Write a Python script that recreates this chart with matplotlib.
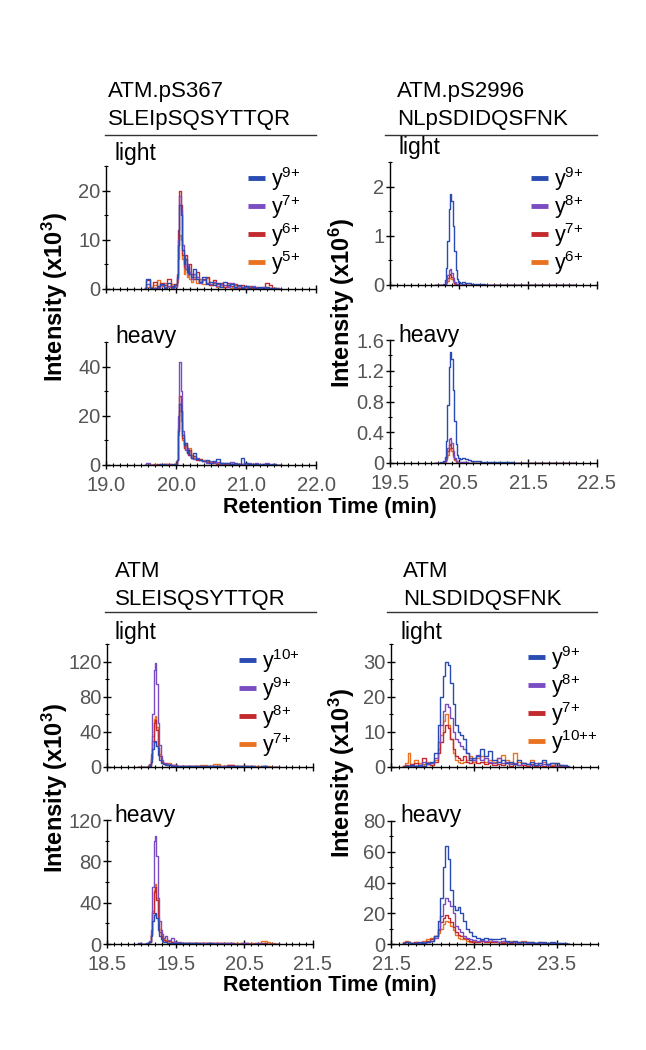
import numpy as np
import matplotlib
matplotlib.use("Agg")
import matplotlib.pyplot as plt
from matplotlib.lines import Line2D
from matplotlib.ticker import MultipleLocator, FuncFormatter

plt.rcParams['font.family'] = ['Liberation Sans', 'DejaVu Sans']
plt.rcParams['mathtext.fontset'] = 'custom'
plt.rcParams['mathtext.rm'] = 'Liberation Sans'
plt.rcParams['mathtext.it'] = 'Liberation Sans:italic'
plt.rcParams['mathtext.bf'] = 'Liberation Sans:bold'

# ---- data: ATM.pS367 SLEIpSQSYTTQR (x10^3) ----
tA = [19.55, 19.60, 19.65, 19.70, 19.75, 19.80, 19.85, 19.90, 19.95, 20.00,
      20.02, 20.04, 20.06, 20.08, 20.10, 20.12, 20.14, 20.16, 20.18, 20.20,
      20.23, 20.26, 20.30, 20.35, 20.40, 20.45, 20.50, 20.55, 20.60, 20.65,
      20.70, 20.75, 20.80, 20.85, 20.90, 20.95, 21.00, 21.05, 21.10, 21.15,
      21.20, 21.25, 21.30, 21.35, 21.40, 21.45, 21.50]
A_light_y9 = [0.2, 2.0, 0.3, 0.1, 0.6, 1.0, 0.3, 1.2, 0.4, 0.8,
              2.5, 9, 17, 15, 8, 5, 6, 3.5, 4.5, 3,
              2.5, 4, 2, 1.5, 2.5, 1, 1.5, 0.8, 1.2, 0.5,
              1.5, 0.8, 1.0, 0.4, 0.8, 0.3, 0.6, 0.2, 0.5, 0.3,
              0.4, 0.2, 0.5, 0.2, 0.3, 0.1, 0.0]
A_light_y7 = [0.1, 1.0, 0.2, 0.3, 0.2, 0.8, 0.5, 0.6, 0.3, 0.5,
              2, 10, 19, 16, 9, 6, 4, 5, 3, 3.5,
              2, 3, 2.5, 1.2, 1.8, 1.2, 1, 1.5, 0.6, 1,
              0.8, 0.5, 1.2, 0.3, 0.6, 0.5, 0.4, 0.3, 0.6, 0.2,
              0.3, 0.4, 0.2, 0.3, 0.1, 0.2, 0.0]
A_light_y6 = [0.3, 1.8, 0.2, 1.5, 0.5, 1.2, 0.8, 2.0, 0.6, 1.0,
              3, 12, 20, 17, 7, 4.5, 7, 4, 3, 5,
              3, 2, 3.5, 1.5, 2, 2.5, 0.8, 1.8, 1, 1.3,
              0.5, 1.2, 0.6, 1.0, 0.3, 0.8, 0.4, 0.6, 0.2, 0.5,
              0.3, 0.5, 1.2, 0.8, 0.3, 0.2, 0.0]
A_light_y5 = [0.2, 0.5, 0.4, 0.8, 1.8, 0.6, 1.2, 0.5, 1.0, 0.6,
              1.5, 6, 11, 10, 6, 3, 4, 2.5, 3, 2,
              1.5, 2.5, 1.2, 2, 1, 2.2, 0.8, 1.2, 0.5, 0.8,
              0.4, 0.6, 0.3, 0.8, 0.2, 0.5, 0.3, 0.4, 0.2, 0.3,
              0.2, 0.3, 0.4, 0.2, 0.3, 0.1, 0.0]
A_heavy_y9 = [0, 0.2, 0, 0.1, 0, 0.3, 0.1, 0.2, 0.3, 0.5,
              2, 14, 25, 22, 12, 8, 9, 5, 6, 4,
              3, 5, 2.5, 2, 1.5, 2, 1, 1.5, 2.5, 1,
              0.8, 1, 0.5, 0.8, 0.5, 3, 0.8, 0.5, 0.3, 0.4,
              0.2, 0.3, 0.4, 0.2, 0.3, 0.1, 0]
A_heavy_y7 = [0.1, 0.8, 0.1, 0, 0.2, 0.1, 0.3, 0.2, 0.1, 0.4,
              2, 20, 42, 30, 14, 9, 6, 7, 5, 4,
              3, 2.5, 3, 2, 1.5, 1, 1.5, 0.8, 1.2, 0.6,
              1, 0.5, 1.2, 0.4, 0.6, 0.3, 0.5, 1.0, 0.3, 0.8,
              0.5, 0.3, 0.8, 0.6, 0.3, 0.2, 0]
A_heavy_y6 = [0, 0.1, 0.2, 0, 0.3, 0.2, 0.4, 0.3, 0.2, 0.6,
              2, 15, 28, 22, 11, 7, 8, 5, 4, 6,
              3, 3.5, 2, 2.5, 1.5, 1.2, 1, 1.3, 0.6, 0.8,
              0.5, 0.6, 0.4, 0.5, 0.3, 0.4, 0.3, 0.2, 0.3, 0.2,
              0.2, 0.1, 0.2, 0.1, 0.1, 0.1, 0]
A_heavy_y5 = [0, 0.1, 0.1, 0.3, 0.2, 0.5, 0.3, 0.4, 0.2, 0.6,
              2, 12, 22, 18, 10, 7, 9, 6, 5, 7,
              4, 3, 2.5, 2, 2, 1.5, 1.2, 1, 0.8, 1,
              0.6, 0.8, 0.5, 0.4, 0.3, 0.5, 0.3, 0.4, 0.2, 0.3,
              0.2, 0.3, 0.2, 0.1, 0.2, 0.1, 0]

# ---- data: ATM.pS2996 NLpSDIDQSFNK (x10^6) ----
tB = [20.15, 20.20, 20.25, 20.28, 20.30, 20.32, 20.34, 20.36, 20.38, 20.40,
      20.42, 20.44, 20.46, 20.48, 20.50, 20.53, 20.56, 20.60, 20.65, 20.70,
      20.75, 20.80, 20.85, 20.90, 21.00, 21.20, 21.40, 21.60, 21.80, 22.00,
      22.20]
B_light_y9 = [0, 0.002, 0.01, 0.03, 0.1, 0.35, 0.9, 1.55, 1.85, 1.7,
              1.2, 0.7, 0.3, 0.12, 0.06, 0.05, 0.06, 0.05, 0.04, 0.03,
              0.02, 0.02, 0.015, 0.01, 0.01, 0.005, 0.005, 0.003, 0.002, 0.002,
              0]
B_light_y8 = [0, 0, 0.003, 0.01, 0.03, 0.08, 0.2, 0.3, 0.32, 0.25,
              0.15, 0.07, 0.03, 0.015, 0.01, 0.01, 0.015, 0.01, 0.006, 0.004,
              0.003, 0.002, 0.002, 0.001, 0.001, 0, 0, 0, 0, 0,
              0]
B_light_y7 = [0, 0, 0.002, 0.008, 0.02, 0.06, 0.14, 0.21, 0.22, 0.17,
              0.1, 0.05, 0.02, 0.01, 0.008, 0.006, 0.008, 0.005, 0.004, 0.003,
              0.002, 0.002, 0.001, 0.001, 0.001, 0, 0, 0, 0, 0,
              0]
B_light_y6 = [0, 0, 0.001, 0.005, 0.015, 0.04, 0.09, 0.14, 0.15, 0.12,
              0.07, 0.03, 0.015, 0.008, 0.005, 0.004, 0.005, 0.003, 0.002, 0.002,
              0.001, 0.001, 0.001, 0, 0, 0, 0, 0, 0, 0,
              0]
B_heavy_y9 = [0, 0.003, 0.01, 0.03, 0.08, 0.28, 0.75, 1.25, 1.45, 1.35,
              0.95, 0.55, 0.25, 0.1, 0.06, 0.05, 0.06, 0.05, 0.04, 0.03,
              0.025, 0.02, 0.015, 0.012, 0.01, 0.008, 0.006, 0.005, 0.004, 0.003,
              0.002]
B_heavy_y8 = [0, 0, 0.002, 0.01, 0.03, 0.08, 0.2, 0.31, 0.33, 0.26,
              0.15, 0.07, 0.03, 0.015, 0.01, 0.01, 0.012, 0.008, 0.005, 0.004,
              0.003, 0.002, 0.002, 0.001, 0.001, 0, 0, 0, 0, 0,
              0]
B_heavy_y7 = [0, 0, 0.002, 0.008, 0.02, 0.06, 0.15, 0.23, 0.25, 0.19,
              0.11, 0.05, 0.02, 0.01, 0.008, 0.006, 0.008, 0.005, 0.004, 0.003,
              0.002, 0.002, 0.001, 0.001, 0.001, 0, 0, 0, 0, 0,
              0]
B_heavy_y6 = [0, 0, 0.001, 0.005, 0.015, 0.04, 0.11, 0.18, 0.2, 0.15,
              0.08, 0.04, 0.015, 0.008, 0.005, 0.004, 0.005, 0.003, 0.002, 0.002,
              0.001, 0.001, 0.001, 0, 0, 0, 0, 0, 0, 0,
              0]

# ---- data: ATM SLEISQSYTTQR (x10^3) ----
tC = [18.95, 19.05, 19.10, 19.13, 19.15, 19.17, 19.19, 19.21, 19.23, 19.25,
      19.27, 19.29, 19.31, 19.33, 19.36, 19.40, 19.45, 19.50, 19.55, 19.60,
      19.70, 19.80, 19.90, 20.00, 20.10, 20.20, 20.30, 20.40, 20.50, 20.60,
      20.70, 20.80, 20.85, 20.90, 21.00]
C_light_y10 = [0, 0, 0.3, 1.5, 6, 20, 28, 30, 24, 14,
               8, 5, 4, 3, 2.5, 2, 1.5, 1.2, 1, 1,
               1.5, 0.8, 1, 0.8, 1.2, 0.5, 0.8, 1.2, 0.6, 1,
               0.5, 0.8, 0.4, 0.3, 0]
C_light_y9 = [0, 0, 0.5, 3, 15, 60, 110, 118, 95, 50,
              25, 12, 8, 5, 4, 3, 2.5, 2, 1.5, 1.5,
              1, 1, 1.2, 0.8, 1, 1.5, 0.8, 1, 0.6, 0.8,
              0.5, 0.8, 0.4, 0.5, 0]
C_light_y8 = [0, 0, 0.3, 2, 9, 30, 50, 54, 42, 22,
              12, 8, 5, 4, 3, 2.5, 2, 1.5, 1.2, 1,
              1, 0.8, 1, 1.2, 0.8, 1, 2, 0.8, 0.6, 0.5,
              0.4, 0.3, 0.2, 0.3, 0]
C_light_y7 = [0, 0, 0.3, 2, 10, 35, 55, 58, 45, 25,
              15, 9, 6, 5, 3, 4, 2, 2.5, 1.5, 1,
              1.5, 1, 2, 1.5, 3, 1, 2, 1.5, 1, 0.8,
              1, 0.5, 0.6, 0.4, 0]
C_heavy_y10 = [0.8, 0.3, 0.5, 2, 8, 22, 28, 30, 25, 14,
               8, 5, 3, 2, 1.5, 1.2, 1, 0.8, 0.7, 0.6,
               0.5, 0.5, 0.4, 0.5, 0.4, 0.3, 0.4, 0.3, 0.3, 0.3,
               0.2, 0.2, 0.1, 0.1, 0]
C_heavy_y9 = [0, 0, 0.5, 3, 14, 55, 100, 105, 85, 45,
              22, 14, 10, 6, 8, 4, 6, 2, 1.5, 1,
              1, 0.8, 1, 0.6, 0.8, 0.5, 0.6, 0.4, 0.6, 0.4,
              0.5, 0.3, 0.2, 0.2, 0]
C_heavy_y8 = [0, 0, 0.3, 2, 9, 30, 50, 55, 43, 22,
              12, 8, 6, 4, 3, 2.5, 2, 1.5, 1, 1,
              0.8, 0.6, 0.8, 0.5, 0.6, 0.8, 0.5, 0.4, 0.5, 0.4,
              0.3, 0.6, 0.3, 0.2, 0]
C_heavy_y7 = [0.5, 0, 0.3, 2, 10, 32, 52, 58, 45, 25,
              15, 10, 8, 5, 4, 3, 2, 1.5, 1, 1,
              0.8, 0.6, 1, 0.8, 0.6, 1, 0.8, 0.6, 0.8, 0.6,
              1, 3, 1.5, 0.5, 0]

# ---- data: ATM NLSDIDQSFNK (x10^3) ----
tD = [21.65, 21.70, 21.72, 21.75, 21.80, 21.85, 21.90, 21.95, 22.00, 22.05,
      22.08, 22.11, 22.14, 22.17, 22.20, 22.23, 22.26, 22.29, 22.32, 22.35,
      22.38, 22.42, 22.46, 22.50, 22.55, 22.60, 22.65, 22.70, 22.75, 22.80,
      22.85, 22.90, 22.95, 23.00, 23.05, 23.10, 23.15, 23.20, 23.25, 23.30,
      23.35, 23.40, 23.45, 23.50, 23.55, 23.60, 23.65]
D_light_y9 = [0, 0.3, 0.2, 0.5, 0.3, 0.6, 0.4, 1.0, 1.5, 4,
              12, 20, 26, 30, 29, 24, 18, 12, 10, 9,
              8, 4, 2, 2.5, 3, 5, 3, 4.5, 2, 1.5,
              2, 1, 1.5, 0.8, 2, 1, 0.8, 1.5, 0.6, 1.2,
              2, 0.8, 1, 1.2, 0.5, 0.6, 0.2]
D_light_y8 = [0, 0.2, 0.3, 0.2, 0.4, 0.3, 1.5, 0.8, 1.2, 2.5,
              7, 12, 16, 18, 17, 14, 10, 8, 7, 6,
              5, 4, 2.5, 2, 3.5, 2, 2.5, 1.5, 1, 2.5,
              1, 1.5, 0.8, 1, 0.5, 1.2, 0.8, 0.5, 1, 0.6,
              0.8, 0.5, 1, 0.4, 0.6, 0.3, 0.1]
D_light_y7 = [0.2, 0.5, 0.3, 0.8, 1.2, 0.5, 2.5, 0.8, 0.6, 1.5,
              4, 7, 10, 12, 11, 8, 5, 3, 2.5, 2,
              3, 1.5, 1, 2, 1.2, 1.5, 0.8, 1, 0.5, 0.8,
              0.6, 1, 0.4, 0.8, 0.5, 0.6, 0.3, 0.8, 0.4, 0.5,
              0.3, 0.5, 0.2, 0.4, 0.2, 0.3, 0]
D_light_y10 = [0.3, 1, 4, 0.5, 2, 1.2, 0.8, 1.5, 0.6, 2,
               5, 9, 13, 15, 12, 8, 4, 2, 1.5, 1,
               1.5, 2, 3, 1.5, 2.5, 3, 1.5, 2, 1.5, 2.5,
               3.5, 2, 1, 4, 1.5, 1, 0.8, 2, 0.6, 1,
               1.5, 0.8, 0.5, 1, 0.4, 0.2, 0]
D_heavy_y9 = [0.5, 1.5, 1, 0.8, 0.5, 1, 0.8, 1.5, 2, 5,
              15, 30, 50, 64, 55, 35, 25, 22, 24, 20,
              15, 10, 8, 5, 4, 3, 4, 3, 3.5, 3,
              4, 2, 1.5, 2, 1.5, 1, 1.5, 1, 0.8, 1,
              1.5, 0.8, 1, 0.5, 0.8, 0.4, 0.2]
D_heavy_y8 = [0.5, 1, 1.2, 0.5, 0.8, 0.6, 1, 1.5, 2, 4,
              10, 18, 26, 30, 28, 25, 20, 12, 10, 8,
              5, 4, 3, 2.5, 2, 2.5, 2, 3, 2, 1.5,
              2, 1, 1.5, 1, 0.8, 1, 0.6, 0.8, 0.5, 0.4,
              0.5, 0.3, 0.4, 0.2, 0.3, 0.2, 0]
D_heavy_y7 = [0.8, 1.5, 1, 0.8, 1.2, 0.6, 1.5, 2, 3, 5,
              9, 14, 17, 19, 17, 14, 11, 8, 6, 5,
              4, 3, 2, 1.5, 1.5, 2, 1.2, 1, 1.5, 1,
              0.8, 1, 0.6, 1.5, 0.8, 1, 0.5, 0.6, 0.4, 0.5,
              0.3, 0.2, 0.3, 0.1, 0.2, 0.1, 0]
D_heavy_y10 = [1, 2, 1.2, 0.8, 1, 0.5, 2, 3, 4, 5,
               7, 10, 13, 15, 14, 12, 9, 6, 4, 3,
               3, 2, 1.5, 2, 1, 2.5, 1.5, 2, 1.5, 1,
               1.5, 1, 2, 1.2, 1.5, 2, 1, 1.5, 0.8, 1,
               0.6, 0.8, 0.5, 0.3, 0.4, 0.2, 0]

labels_A = ['y$^{9{+}}$', 'y$^{7{+}}$', 'y$^{6{+}}$', 'y$^{5{+}}$']
labels_B = ['y$^{9{+}}$', 'y$^{8{+}}$', 'y$^{7{+}}$', 'y$^{6{+}}$']
labels_C = ['y$^{10{+}}$', 'y$^{9{+}}$', 'y$^{8{+}}$', 'y$^{7{+}}$']
labels_D = ['y$^{9{+}}$', 'y$^{8{+}}$', 'y$^{7{+}}$', 'y$^{10{+}{+}}$']

colors = ['#2a4cb2', '#7b4dc2', '#c22a2e', '#ea7322']

W, H = 646, 1050
fig = plt.figure(figsize=(W / 100, H / 100), dpi=100)


def fx(px):
    return px / W


def fy(py):
    return 1 - py / H


def make_ax(left, right, top, bottom):
    return fig.add_axes([fx(left), fy(bottom), (right - left) / W, (bottom - top) / H])


def style_ax(ax, xlim, xticks, ylim, ymaj, ymin, show_x):
    ax.set_xlim(*xlim)
    ax.set_ylim(0, ylim)
    for s in ['top', 'right']:
        ax.spines[s].set_visible(False)
    ax.spines['left'].set_linewidth(1.0)
    ax.spines['bottom'].set_linewidth(1.0)
    ax.set_xticks(xticks)
    ax.xaxis.set_minor_locator(MultipleLocator(0.1))
    ax.yaxis.set_major_locator(MultipleLocator(ymaj))
    ax.yaxis.set_minor_locator(MultipleLocator(ymin))
    ax.tick_params(which='major', direction='inout', length=6, width=1.0,
                   labelsize=14.5, labelcolor='#555555')
    ax.tick_params(axis='y', which='major', pad=1)
    ax.tick_params(axis='x', which='major', pad=5)
    ax.tick_params(which='minor', direction='inout', length=3.5, width=0.8)
    ax.yaxis.set_major_formatter(FuncFormatter(lambda v, p: f'{v:g}'))
    ax.xaxis.set_major_formatter(FuncFormatter(lambda v, p: f'{v:.1f}'))
    if not show_x:
        ax.tick_params(axis='x', labelbottom=False)


def draw(ax, t, series):
    # orange drawn first, blue on top
    for y, c in reversed(list(zip(series, colors))):
        ax.plot(t, y, color=c, lw=1.0, drawstyle='steps-mid')


panels = [
    dict(t=tA, light=[A_light_y9, A_light_y7, A_light_y6, A_light_y5],
         heavy=[A_heavy_y9, A_heavy_y7, A_heavy_y6, A_heavy_y5], labels=labels_A,
         lx=(106, 316), light_tb=(166, 289), heavy_tb=(342, 465),
         xlim=(19.0, 22.0), xticks=[19.0, 20.0, 21.0, 22.0],
         ylight=(25, 10, 5), yheavy=(50, 20, 10),
         title=('ATM.pS367', 'SLEIpSQSYTTQR'), tx=108, ty=(97, 125), line=(105, 316, 135),
         lab_x=115, lab_y=(160, 343), leg=(248, 165),
         ylab='Intensity (x10$^\\mathbf{3}$)', ylab_xy=(55, 297)),
    dict(t=tB, light=[B_light_y9, B_light_y8, B_light_y7, B_light_y6],
         heavy=[B_heavy_y9, B_heavy_y8, B_heavy_y7, B_heavy_y6], labels=labels_B,
         lx=(390, 597), light_tb=(162, 285), heavy_tb=(340, 463),
         xlim=(19.5, 22.5), xticks=[19.5, 20.5, 21.5, 22.5],
         ylight=(2.5, 1, 0.5), yheavy=(1.6, 0.4, 0.2),
         title=('ATM.pS2996', 'NLpSDIDQSFNK'), tx=397, ty=(97, 125), line=(385, 597, 135),
         lab_x=398, lab_y=(154, 342), leg=(531, 165),
         ylab='Intensity (x10$^\\mathbf{6}$)', ylab_xy=(342, 303)),
    dict(t=tC, light=[C_light_y10, C_light_y9, C_light_y8, C_light_y7],
         heavy=[C_heavy_y10, C_heavy_y9, C_heavy_y8, C_heavy_y7], labels=labels_C,
         lx=(107, 313), light_tb=(644, 767), heavy_tb=(820, 944),
         xlim=(18.5, 21.5), xticks=[18.5, 19.5, 20.5, 21.5],
         ylight=(140, 40, 20), yheavy=(120, 40, 20),
         title=('ATM', 'SLEISQSYTTQR'), tx=115, ty=(577, 605), line=(105, 316, 612),
         lab_x=114, lab_y=(639, 822), leg=(239, 647),
         ylab='Intensity (x10$^\\mathbf{3}$)', ylab_xy=(55, 788)),
    dict(t=tD, light=[D_light_y9, D_light_y8, D_light_y7, D_light_y10],
         heavy=[D_heavy_y9, D_heavy_y8, D_heavy_y7, D_heavy_y10], labels=labels_D,
         lx=(391, 598), light_tb=(644, 767), heavy_tb=(821, 944),
         xlim=(21.5, 24.0), xticks=[21.5, 22.5, 23.5],
         ylight=(35, 10, 5), yheavy=(80, 20, 10),
         title=('ATM', 'NLSDIDQSFNK'), tx=403, ty=(577, 605), line=(387, 597, 612),
         lab_x=400, lab_y=(639, 822), leg=(528, 644),
         ylab='Intensity (x10$^\\mathbf{3}$)', ylab_xy=(342, 773)),
]

for p in panels:
    axl = make_ax(p['lx'][0], p['lx'][1], *p['light_tb'])
    axh = make_ax(p['lx'][0], p['lx'][1], *p['heavy_tb'])
    draw(axl, p['t'], p['light'])
    draw(axh, p['t'], p['heavy'])
    style_ax(axl, p['xlim'], p['xticks'], *p['ylight'], show_x=False)
    style_ax(axh, p['xlim'], p['xticks'], *p['yheavy'], show_x=True)

    # header
    fig.text(fx(p['tx']), fy(p['ty'][0]), p['title'][0], fontsize=16, va='baseline')
    fig.text(fx(p['tx']), fy(p['ty'][1]), p['title'][1], fontsize=16, va='baseline')
    x0, x1, yl = p['line']
    fig.add_artist(Line2D([fx(x0), fx(x1)], [fy(yl), fy(yl)], color='#333333', lw=1.0,
                          transform=fig.transFigure))
    fig.text(fx(p['lab_x']), fy(p['lab_y'][0]), 'light', fontsize=16.5, va='baseline')
    fig.text(fx(p['lab_x']), fy(p['lab_y'][1]), 'heavy', fontsize=16.5, va='baseline')

    handles = [Line2D([], [], color=c, lw=3.5, solid_capstyle='butt') for c in colors]
    axl.legend(handles, p['labels'], loc='upper left',
               bbox_to_anchor=(fx(p['leg'][0]), fy(p['leg'][1])),
               bbox_transform=fig.transFigure, frameon=False, fontsize=15.5,
               handlelength=0.8, handletextpad=0.25, labelspacing=0.0,
               borderpad=0, borderaxespad=0)

    fig.text(fx(p['ylab_xy'][0]), fy(p['ylab_xy'][1]), p['ylab'], rotation=90,
             fontsize=17, fontweight='bold', ha='center', va='center')

fig.text(fx(330), fy(508), 'Retention Time (min)', fontsize=15.5, fontweight='bold',
         ha='center', va='center')
fig.text(fx(330), fy(985), 'Retention Time (min)', fontsize=15.5, fontweight='bold',
         ha='center', va='center')

fig.savefig('out.png', dpi=100)
